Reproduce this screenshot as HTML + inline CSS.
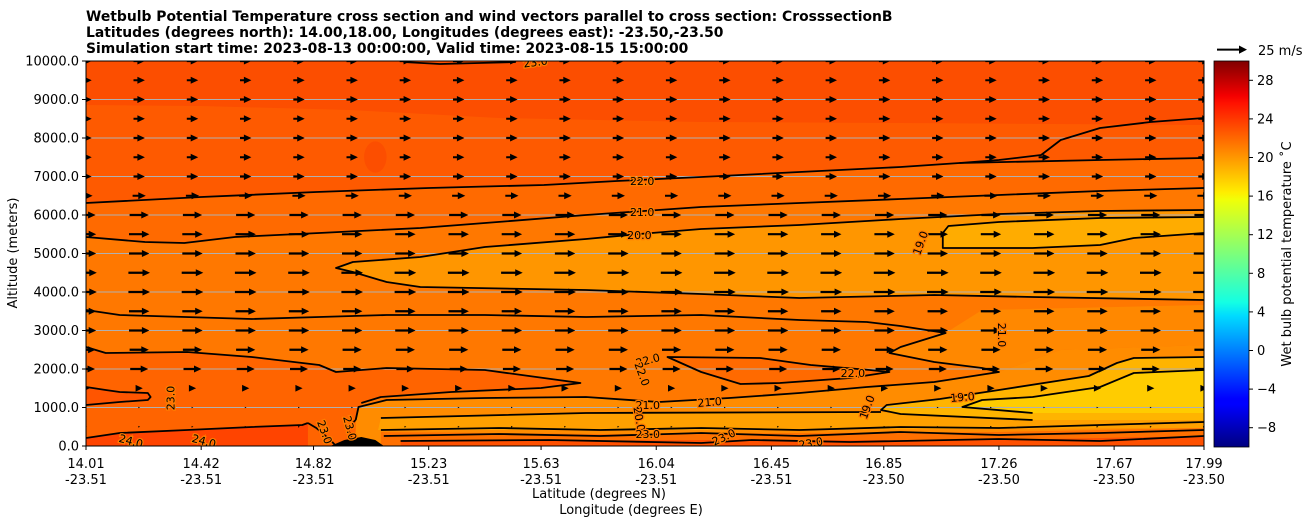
<!DOCTYPE html>
<html><head><meta charset="utf-8"><style>
html,body{margin:0;padding:0;background:#fff;}
svg{display:block;font-family:"DejaVu Sans","Liberation Sans",sans-serif;}
</style></head><body>
<svg id="chart" width="1311" height="526" viewBox="0 0 1311 526" xmlns="http://www.w3.org/2000/svg">
<defs>
<clipPath id="plotClip"><rect x="86" y="61" width="1118" height="385"/></clipPath>
<linearGradient id="jet" x1="0" y1="1" x2="0" y2="0">
<stop offset="0" stop-color="#00007f"/><stop offset="0.11" stop-color="#0000ff"/><stop offset="0.125" stop-color="#0000ff"/>
<stop offset="0.34" stop-color="#00dbff"/><stop offset="0.375" stop-color="#14ffe3"/><stop offset="0.64" stop-color="#f0ff08"/>
<stop offset="0.66" stop-color="#ffed00"/><stop offset="0.89" stop-color="#ff1200"/><stop offset="0.91" stop-color="#f40000"/>
<stop offset="1" stop-color="#800000"/></linearGradient>
</defs>
<g font-weight="bold" font-size="13.9" fill="#000">
<text x="86" y="21">Wetbulb Potential Temperature cross section and wind vectors parallel to cross section: CrosssectionB</text>
<text x="86" y="37">Latitudes (degrees north): 14.00,18.00, Longitudes (degrees east): -23.50,-23.50</text>
<text x="86" y="53">Simulation start time: 2023-08-13 00:00:00, Valid time: 2023-08-15 15:00:00</text>
</g>
<g id="plot" clip-path="url(#plotClip)">
<rect x="86" y="61" width="1118" height="385" fill="#fe5a00"/>
<g id="fills"></g><g id="grid"></g><g id="contours"></g><g id="quiver"></g><g id="clabels"></g>
</g>
<rect x="86" y="61" width="1118" height="385" fill="none" stroke="#000" stroke-width="1"/>
<g id="axes" font-size="13" fill="#000"></g>
<text x="17" y="253" font-size="13" text-anchor="middle" transform="rotate(-90 17 253)">Altitude (meters)</text>
<text x="599" y="498" font-size="13" text-anchor="middle">Latitude (degrees N)</text>
<text x="631" y="514" font-size="13" text-anchor="middle">Longitude (degrees E)</text>
<rect x="1214" y="61" width="35" height="386" fill="url(#jet)" stroke="#000" stroke-width="0.8"/>
<g id="cbar" font-size="13"></g>
<text x="1291" y="254" font-size="13" text-anchor="middle" transform="rotate(-90 1291 254)">Wet bulb potential temperature ˚C</text>
<polygon points="1217,48.6 1239,48.6 1239,45.5 1247,49.6 1239,53.7 1239,50.6 1217,50.6" fill="#000"/>
<text x="1258" y="55" font-size="13">25 m/s</text>
</svg>
<script>
// ---------- data ----------
const xTickLats = [14.01,14.42,14.82,15.23,15.63,16.04,16.45,16.85,17.26,17.67,17.99];
const xTickLons = ["-23.51","-23.51","-23.51","-23.51","-23.51","-23.51","-23.51","-23.50","-23.50","-23.50","-23.50"];
const yTicks = [0,1000,2000,3000,4000,5000,6000,7000,8000,9000,10000];
const cbarTicks = [-8,-4,0,4,8,12,16,20,24,28];
const quiverAlts = [0,500,1000,1500,2000,2500,3000,3500,4000,4500,5000,5500,6000,6500,7000,7500,8000,8500,9000,9500,10000];
const quiverU = [0.5,1.5,1.5,6,15,16,17,17,18,18,17,17,16,11,9.5,9.5,9.5,9.5,9.5,9.5,9.5];
const quiverCols = 22;

const topDarkLat=[14.01,14.42,14.95,15.48,16.20,16.91,17.99], topDarkAlt=[8857,8831,8727,8519,8416,8390,8338];
const c22Lat=[14.01,14.42,14.83,15.23,15.64,15.90,16.20,16.55,16.91,17.12,17.62,17.99], c22Alt=[6312,6468,6597,6701,6779,6883,6987,7117,7247,7351,7429,7481];
const c23Lat=[17.12,17.26,17.41,17.48,17.62,17.80,17.99], c23Alt=[7351,7429,7558,7948,8260,8416,8519];
const c21Lat=[14.01,14.22,14.36,14.54,14.84,15.20,15.43,15.79,16.20,16.55,16.91,17.26,17.62,17.99], c21Alt=[5429,5299,5273,5429,5532,5662,5792,6000,6208,6312,6416,6519,6623,6701];
const c20Lat=[17.99,17.62,17.26,16.91,16.55,16.20,15.98,15.79,15.43,15.20,14.96,14.90,14.96,15.08,15.20,15.79,16.20,16.55,17.03,17.38,17.99], c20Alt=[6130,6104,6026,5896,5740,5636,5506,5377,5169,4909,4779,4623,4519,4260,4130,4052,3948,3844,3922,3870,3792];
const c19Lat=[17.99,17.62,17.26,17.08,17.06,17.06,17.38,17.62,17.74,17.99], c19Alt=[5948,5922,5818,5714,5532,5143,5143,5221,5403,5532];
const c21lowLat=[14.01,14.13,14.60,14.84,15.08,15.43,15.79,16.20,16.55,16.79,16.91,17.07,16.91,16.87,17.03,17.20,17.26,17.03,16.79,16.55,16.30,16.05,15.79,15.43,15.08,14.98,14.97];
const c21lowAlt=[3532,3403,3299,3351,3403,3403,3351,3403,3273,3221,3117,2935,2571,2416,2182,2026,1922,1662,1532,1377,1247,1143,1273,1247,1195,1013,675];
const c22lowLat=[14.01,14.08,14.37,14.60,14.84,14.90,15.08,15.43,15.77,15.63,15.31,15.06,14.99], c22lowAlt=[2571,2416,2442,2312,2104,1922,2026,1974,1636,1506,1403,1273,1117];
const s23Lat=[14.01,14.08,14.13,14.23,14.24,14.23,14.13,14.01], s23Alt=[1532,1455,1403,1377,1273,1195,1143,1065];
const c24Lat=[14.01,14.13,14.37,14.60,14.78,14.80], c24Alt=[208,338,416,494,545,597];
const r22Lat=[16.08,16.41,16.59,16.80,16.87,16.73,16.48,16.34,16.20], r22Alt=[2312,2286,2104,1974,1922,1766,1636,1610,1922];
const midLowLat=[14.97,14.98,15.08,15.43,15.79,16.05,16.30,16.55,16.79,17.03,17.26,17.48,17.99], midLowAlt=[675,1013,1195,1247,1273,1143,1247,1377,1532,1662,1922,2494,2623];
const rightMidLat=[17.07,17.20,17.99,17.99,17.48,17.26,17.20,17.03,16.87,16.91], rightMidAlt=[2935,3532,3662,2623,2494,1922,2026,2182,2416,2571];
const band195Lat=[15.06,15.79,16.84,17.38,17.99,17.99,16.20,15.05], band195Alt=[727,857,883,675,675,468,416,416];
const y19Lat=[17.99,17.74,17.68,17.58,17.26,17.05,16.86,16.84,16.91,17.38,17.99], y19Alt=[2312,2286,2156,1818,1455,1221,1065,935,831,675,675];
const y18Lat=[17.99,17.74,17.62,17.38,17.20,17.13,17.38,17.99], y18Alt=[1974,1896,1532,1273,1195,1013,857,857];
const stripLat=[15.06,15.84,16.55,17.26,17.99,17.99,15.06], stripAlt=[364,312,338,364,468,0,0];
const redLat=[15.13,16.20,17.26,17.99,17.99,15.13], redAlt=[130,156,156,260,0,0];
const terrainLat=[14.88,14.93,14.99,15.04,15.07], terrainAlt=[0,156,234,156,0];
const lineALat=[15.06,15.48,15.84,16.20,16.55,16.91,17.26,17.62,17.99], lineAAlt=[416,468,416,468,416,494,468,545,623];
const lineBLat=[15.07,15.48,15.84,16.20,16.55,16.91,17.26,17.62,17.99], lineBAlt=[260,312,260,338,260,364,286,338,416];
const lineCLat=[15.13,15.66,16.20,16.38,16.73,17.26,17.62,17.99], lineCAlt=[130,156,78,156,104,182,130,260];
const lineDLat=[15.06,15.79,16.84], lineDAlt=[727,857,883];
const v1Lat=[14.80,14.83,14.88,14.90], v1Alt=[597,468,156,0];
const v2Lat=[14.97,14.94,14.96,14.98], v2Alt=[675,468,156,0];
const topLat=[15.14,15.27,15.41,15.54], topAlt=[9974,9922,9948,9974];
const labelText=["22.0","21.0","20.0","19.0","21.0","22.0","22.0","22.0","21.0","21.0","19.0","19.0","23.0","24.0","24.0","23.0","23.0","20.0","23.0","23.0","23.0","23.0"];
const labelLat=[15.99,15.99,15.98,16.98,17.27,16.01,15.99,16.74,16.01,16.23,17.13,16.79,14.31,14.17,14.43,14.86,14.95,15.98,16.01,16.28,16.59,15.61];
const labelAlt=[6883,6078,5481,5273,2883,2234,1870,1896,1065,1143,1273,1013,1247,130,130,364,468,701,312,234,78,9974];
const labelRot=[0,0,0,-70,90,-15,70,0,0,-5,-5,-70,-90,15,15,70,75,80,0,-25,-10,-8];

// ---------- scales ----------
const X0=86,X1=1204,YB=446,YT=61,LAT0=14.01,LAT1=17.99,ALT1=10000;
function xs(lat){return X0+(lat-LAT0)/(LAT1-LAT0)*(X1-X0);}
function ys(alt){return YB-alt/ALT1*(YB-YT);}
function yc(v){return 447-(v+10)/40*386;}
const NS="http://www.w3.org/2000/svg";
function mk(tag,attrs,parent){const e=document.createElementNS(NS,tag);for(const k in attrs)e.setAttribute(k,attrs[k]);parent.appendChild(e);return e;}
function pts(lats,alts){return lats.map((l,i)=>xs(l).toFixed(1)+","+ys(alts[i]).toFixed(1));}

const fills=document.getElementById("fills");
function fillPoly(name,lats,alts,color,close){
  let p=pts(lats,alts);
  if(close==="top"){p.push(xs(lats[lats.length-1])+","+ys(ALT1));p.unshift(xs(lats[0])+","+ys(ALT1));}
  if(close==="bottom"){p.push(xs(lats[lats.length-1])+","+ys(0));p.unshift(xs(lats[0])+","+ys(0));}
  const e=mk("polygon",{points:p.join(" "),fill:color},fills);
  
  
}
fillPoly("fill-top-23",topDarkLat,topDarkAlt,"#fc4e00","top");
const blob=mk("ellipse",{cx:xs(15.04),cy:ys(7506),rx:xs(15.08)-xs(15.04),ry:ys(7100)-ys(7506),fill:"#fc4e00"},fills);


fillPoly("fill-below-22",c22Lat,c22Alt,"#ff6a00","bottom");
fillPoly("fill-below-21",c21Lat,c21Alt,"#ff7800","bottom");
fillPoly("fill-tongue-20",c20Lat,c20Alt,"#ff9600",null);
fillPoly("fill-tongue-19",c19Lat,c19Alt,"#ffac00",null);
fillPoly("fill-lower-left-22",c22lowLat,c22lowAlt,"#ff6400","bottom");
fillPoly("fill-stub-23",s23Lat,s23Alt,"#ff5500",null);
fillPoly("fill-right-loop-22",r22Lat,r22Alt,"#ff6a00",null);
fillPoly("fill-mid-lower",midLowLat,midLowAlt,"#ff8c00","bottom");
fillPoly("fill-right-mid",rightMidLat,rightMidAlt,"#ff8800",null);
fillPoly("fill-band-19-5",band195Lat,band195Alt,"#ffa000",null);
fillPoly("fill-yellow-19",y19Lat,y19Alt,"#ffb400",null);
fillPoly("fill-yellow-18",y18Lat,y18Alt,"#ffcc00",null);
fillPoly("fill-bottom-strip",stripLat,stripAlt,"#ff7000",null);
fillPoly("fill-bottom-24",c24Lat,c24Alt,"#ff4400","bottom");
fillPoly("fill-bottom-red",redLat,redAlt,"#ff5000",null);
fillPoly("terrain",terrainLat,terrainAlt,"#000",null);

// grid
const grid=document.getElementById("grid");
yTicks.forEach(v=>{if(v===0||v===ALT1)return;
  const l=mk("line",{x1:X0,x2:X1,y1:ys(v),y2:ys(v),stroke:"#b0b0b0","stroke-width":1},grid);
  
  
});

// contours
const cg=document.getElementById("contours");
function cline(name,lats,alts,closed){
  const e=mk(closed?"polygon":"polyline",{points:pts(lats,alts).join(" "),fill:"none",stroke:"#000","stroke-width":1.8,"stroke-linejoin":"round"},cg);
  
  
}
cline("contour-22",c22Lat,c22Alt);
cline("contour-23-upper",c23Lat,c23Alt);
cline("contour-21",c21Lat,c21Alt);
cline("contour-20",c20Lat,c20Alt);
cline("contour-19",c19Lat,c19Alt);
cline("contour-21-lower",c21lowLat,c21lowAlt);
cline("contour-22-lower",c22lowLat,c22lowAlt);
cline("contour-23-stub",s23Lat,s23Alt);
cline("contour-24",c24Lat,c24Alt);
cline("contour-22-right-loop",r22Lat,r22Alt,true);
cline("contour-19-bottom-right",y19Lat.slice(0,10),y19Alt.slice(0,10));
cline("contour-18-bottom-right",y18Lat.slice(0,7),y18Alt.slice(0,7));
cline("contour-bottom-a",lineALat,lineAAlt);
cline("contour-bottom-b",lineBLat,lineBAlt);
cline("contour-bottom-23",lineCLat,lineCAlt);
cline("contour-bottom-d",lineDLat,lineDAlt);
cline("contour-23-v1",v1Lat,v1Alt);
cline("contour-23-v2",v2Lat,v2Alt);
cline("contour-23-top",topLat,topAlt);

// quiver
const qg=document.getElementById("quiver");
quiverAlts.forEach((alt,r)=>{
  const u=quiverU[r], L=u*1.2, y=ys(alt);
  for(let c=0;c<quiverCols;c++){
    const lat=LAT0+c*(LAT1-LAT0)/(quiverCols-1);
    const x=xs(lat), x0=x-L/2, x1=x+L/2;
    const hl=Math.min(L,7.5), hw=3.5*hl/7.5, sw=1.1*Math.min(1,L/7.5);
    const p=[[x0,y-sw],[x1-hl,y-sw],[x1-hl,y-hw],[x1,y],[x1-hl,y+hw],[x1-hl,y+sw],[x0,y+sw]].map(a=>a[0].toFixed(1)+","+a[1].toFixed(1)).join(" ");
    const a=mk("polygon",{points:p,fill:"#000"},qg);
    
    
  }
});

// contour labels
const lg=document.getElementById("clabels");
labelText.forEach((t,i)=>{
  const x=xs(labelLat[i]), y=ys(labelAlt[i]);
  const e=mk("text",{x:x,y:y+4,"font-size":11,"text-anchor":"middle",fill:"#000",stroke:"#ff7c00","stroke-width":2.5,"paint-order":"stroke",transform:"rotate("+labelRot[i]+" "+x+" "+y+")"},lg);
  e.textContent=t;
  
  
});

// axes
const ax=document.getElementById("axes");
yTicks.forEach(v=>{
  const y=ys(v);
  const tk=mk("line",{x1:X0-4,x2:X0,y1:y,y2:y,stroke:"#000"},ax);
  
  
  const tx=mk("text",{x:X0-7,y:y+4.5,"text-anchor":"end"},ax);
  tx.textContent=v.toFixed(1);
  
  
});
xTickLats.forEach((v,i)=>{
  const x=xs(v);
  const tk=mk("line",{x1:x,x2:x,y1:YB,y2:YB+4,stroke:"#000"},ax);
  
  
  const t1=mk("text",{x:x,y:468,"text-anchor":"middle"},ax);
  t1.textContent=v.toFixed(2);
  
  
  const t2=mk("text",{x:x,y:484,"text-anchor":"middle"},ax);
  t2.textContent=xTickLons[i];
  
  
});
const cb=document.getElementById("cbar");
cbarTicks.forEach(v=>{
  const y=yc(v);
  const tk=mk("line",{x1:1249,x2:1253,y1:y,y2:y,stroke:"#000"},cb);
  
  
  const tx=mk("text",{x:1257,y:y+4.5},cb);
  tx.textContent=v<0?"\u2212"+Math.abs(v):String(v);
  
  
});
</script>
</body></html>
